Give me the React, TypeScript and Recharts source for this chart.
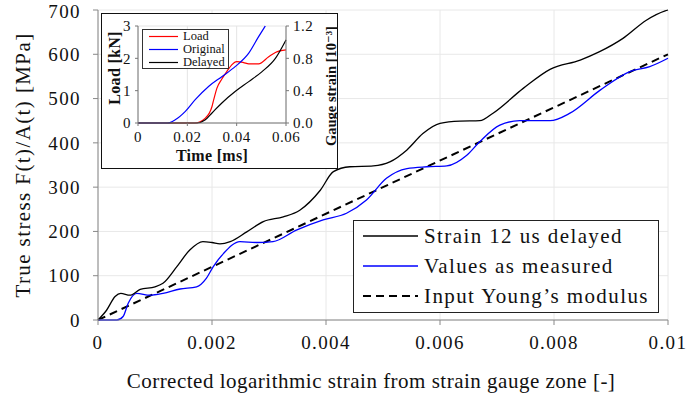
import { LineChart, Line, XAxis, YAxis, CartesianGrid, Label } from 'recharts';

// main chart: strain [-] vs true stress [MPa]
const delayedStrain = [0, 0.00015, 0.0003, 0.0004, 0.00056, 0.00074, 0.001, 0.00114, 0.00138, 0.00161, 0.00184, 0.002, 0.00214, 0.00232, 0.00261, 0.0029, 0.00325, 0.00354, 0.0039, 0.00413, 0.00442, 0.00483, 0.00512, 0.00542, 0.0057, 0.006, 0.00635, 0.0067, 0.00693, 0.00746, 0.00793, 0.00846, 0.0088, 0.00921, 0.00962, 0.00995, 0.01];
const delayedStress = [0, 22, 53, 60, 56, 69, 75, 83, 120, 158, 177, 175, 172, 177, 199, 222, 233, 248, 293, 335, 346, 348, 357, 384, 421, 444, 449, 450, 467, 523, 566, 587, 606, 636, 677, 698, 700];

const measuredStrain = [0, 0.00033, 0.00044, 0.00053, 0.00068, 0.00091, 0.00114, 0.00144, 0.00173, 0.0019, 0.00202, 0.0022, 0.00249, 0.00278, 0.00307, 0.00348, 0.00395, 0.00436, 0.00471, 0.00506, 0.00542, 0.00577, 0.00612, 0.00647, 0.0067, 0.00705, 0.0074, 0.00793, 0.00828, 0.00881, 0.00933, 0.00968, 0.01];
const measuredStress = [0, 0, 8, 38, 60, 56, 60, 70, 75, 94, 120, 150, 177, 175, 177, 203, 226, 241, 271, 320, 342, 346, 348, 372, 403, 440, 450, 450, 467, 519, 561, 572, 591];

const youngStrain = [0, 0.01];
const youngStress = [0, 600];

const xTicks = [0, 0.002, 0.004, 0.006, 0.008, 0.01];
const yTicks = [0, 100, 200, 300, 400, 500, 600, 700];

// inset: time [ms] vs load [kN] / gauge strain [10^-3]
const loadTime = [0, 0.023, 0.0273, 0.03, 0.0307, 0.032, 0.034, 0.036, 0.038, 0.04, 0.0428, 0.0449, 0.0489, 0.053, 0.0557, 0.06];
const loadKN = [0, 0, 0.15, 0.51, 0.72, 1.08, 1.36, 1.59, 1.8, 1.9, 1.87, 1.83, 1.83, 2.05, 2.18, 2.26];

const originalTime = [0, 0.012, 0.0151, 0.0192, 0.0232, 0.0286, 0.0341, 0.0395, 0.0449, 0.0489, 0.0516];
const originalGauge = [0, 0, 0.04, 0.144, 0.288, 0.452, 0.576, 0.7, 0.864, 1.068, 1.2];

const delayedTime = [0, 0.024, 0.0273, 0.03, 0.034, 0.0395, 0.0449, 0.0503, 0.0557, 0.06];
const delayedGauge = [0, 0, 0.04, 0.124, 0.248, 0.392, 0.512, 0.636, 0.8, 1.028];

const insetXTicks = [0, 0.02, 0.04, 0.06];
const loadTicks = [0, 1, 2, 3];
const gaugeTicks = [0, 0.4, 0.8, 1.2];

const zip = (xs: number[], ys: number[]) => xs.map((x, i) => ({ x, y: ys[i] }));

const serif = '"Liberation Serif", "DejaVu Serif", serif';

const legendItems = [
  { name: 'Strain 12 us delayed', color: '#000000', width: 1.3, dash: undefined },
  { name: 'Values as measured', color: '#0000ff', width: 1.3, dash: undefined },
  { name: 'Input Young\u2019s modulus', color: '#000000', width: 2, dash: '8 5' },
];

const insetLegend = [
  { name: 'Load', color: '#ff0000' },
  { name: 'Original', color: '#0000ff' },
  { name: 'Delayed', color: '#000000' },
];

const XLabel = ({ viewBox }: any) => (
  <text x={viewBox.x + viewBox.width / 2 - 12} y={388} textAnchor="middle"
    style={{ fontFamily: serif, fontSize: 21, letterSpacing: 0.5, fill: '#111' }}>
    Corrected logarithmic strain from strain gauge zone [-]
  </text>
);

const YLabel = ({ viewBox }: any) => {
  const cy = viewBox.y + viewBox.height / 2;
  return (
    <text x={30} y={cy} textAnchor="middle" transform={`rotate(-90 30 ${cy})`}
      style={{ fontFamily: serif, fontSize: 21, letterSpacing: 1.4, fill: '#111' }}>
      True stress F(t)/A(t) [MPa]
    </text>
  );
};

function Inset() {
  const tick = { fill: '#111', fontSize: 15, letterSpacing: 0.5, fontFamily: serif };
  const bold = { fontFamily: serif, fontSize: 16, fontWeight: 700, letterSpacing: 0.3, fill: '#111' };
  return (
    <div style={{
      position: 'absolute', left: 101, top: 13, width: 237, height: 156,
      border: '1.5px solid #111', boxSizing: 'border-box', background: '#fff', overflow: 'hidden',
    }}>
      <div style={{ position: 'absolute', left: -1.5, top: -1.5 }}>
        <LineChart width={237} height={156} margin={{ top: 13, right: 0, left: 0, bottom: 0 }}>
          <CartesianGrid stroke="#e4e4e4" />
          <XAxis type="number" dataKey="x" domain={[0, 0.06]} ticks={insetXTicks} height={46}
            stroke="#777" tickSize={3} tickMargin={5} tick={tick} allowDuplicatedCategory={false}>
            <Label content={() => (
              <text x={111} y={148} textAnchor="middle" style={bold}>Time [ms]</text>
            )} />
          </XAxis>
          <YAxis yAxisId="load" type="number" domain={[0, 3]} ticks={loadTicks} width={37}
            stroke="#777" tickSize={3} tickMargin={4} tick={tick}>
            <Label content={() => (
              <text x={19} y={55} textAnchor="middle" transform="rotate(-90 19 55)" style={bold}>Load [kN]</text>
            )} />
          </YAxis>
          <YAxis yAxisId="gauge" orientation="right" type="number" domain={[0, 1.2]} ticks={gaugeTicks} width={52}
            stroke="#777" tickSize={3} tickMargin={4} tick={tick} tickFormatter={(v: number) => v.toFixed(1)}>
            <Label content={() => (
              <text x={235} y={133} textAnchor="start" transform="rotate(-90 235 133)"
                style={{ ...bold, fontSize: 14.5, letterSpacing: 0 }}>Gauge strain [10⁻³]</text>
            )} />
          </YAxis>
          <Line yAxisId="load" data={zip(loadTime, loadKN)} dataKey="y" type="monotone" stroke="#ff0000"
            strokeWidth={1.2} dot={false} isAnimationActive={false} />
          <Line yAxisId="gauge" data={zip(originalTime, originalGauge)} dataKey="y" type="monotone" stroke="#0000ff"
            strokeWidth={1.2} dot={false} isAnimationActive={false} />
          <Line yAxisId="gauge" data={zip(delayedTime, delayedGauge)} dataKey="y" type="monotone" stroke="#000000"
            strokeWidth={1.2} dot={false} isAnimationActive={false} />
        </LineChart>
      </div>
      <div style={{
        position: 'absolute', left: 40, top: 15, width: 87, height: 40, boxSizing: 'border-box',
        border: '1px solid #333', background: '#fff', fontFamily: serif, fontSize: 12.5, color: '#111',
      }}>
        {insetLegend.map((it) => (
          <div key={it.name} style={{ display: 'flex', alignItems: 'center', height: 13, lineHeight: '13px' }}>
            <svg width={36} height={13} style={{ flex: 'none' }}>
              <line x1={6} x2={35} y1={6.5} y2={6.5} stroke={it.color} strokeWidth={1.2} />
            </svg>
            <span style={{ marginLeft: 4 }}>{it.name}</span>
          </div>
        ))}
      </div>
    </div>
  );
}

export default function App() {
  const tick = { fill: '#111', fontSize: 19, letterSpacing: 1.4, fontFamily: serif };
  return (
    <div style={{ position: 'absolute', left: 0, top: 0, width: 688, height: 401, background: '#fff' }}>
      <LineChart width={688} height={401} margin={{ top: 10, right: 20, left: 0, bottom: 21 }}>
        <CartesianGrid stroke="#e8e8e8" />
        <XAxis type="number" dataKey="x" domain={[0, 0.01]} ticks={xTicks} height={60}
          stroke="#888" tickSize={5} tickMargin={11} tick={tick} allowDuplicatedCategory={false}>
          <Label content={XLabel} />
        </XAxis>
        <YAxis type="number" domain={[0, 700]} ticks={yTicks} width={98}
          stroke="#888" tickSize={5} tickMargin={12} tick={tick}>
          <Label content={YLabel} />
        </YAxis>
        <Line data={zip(youngStrain, youngStress)} dataKey="y" type="linear" stroke="#000" strokeWidth={2}
          strokeDasharray="8 5" dot={false} isAnimationActive={false} />
        <Line data={zip(measuredStrain, measuredStress)} dataKey="y" type="monotone" stroke="#0000ff"
          strokeWidth={1.3} dot={false} isAnimationActive={false} />
        <Line data={zip(delayedStrain, delayedStress)} dataKey="y" type="monotone" stroke="#000"
          strokeWidth={1.3} dot={false} isAnimationActive={false} />
      </LineChart>
      <Inset />
      <div style={{
        position: 'absolute', left: 353, top: 220, width: 306, height: 93, boxSizing: 'border-box',
        border: '1.5px solid #222', background: '#fff', fontFamily: serif, fontSize: 21, letterSpacing: 1.4, color: '#111',
      }}>
        {legendItems.map((it) => (
          <div key={it.name} style={{ display: 'flex', alignItems: 'center', height: 30, lineHeight: '30px' }}>
            <svg width={66} height={30} style={{ flex: 'none' }}>
              <line x1={9} x2={64} y1={15} y2={15} stroke={it.color} strokeWidth={it.width} strokeDasharray={it.dash} />
            </svg>
            <span style={{ marginLeft: 4 }}>{it.name}</span>
          </div>
        ))}
      </div>
    </div>
  );
}
